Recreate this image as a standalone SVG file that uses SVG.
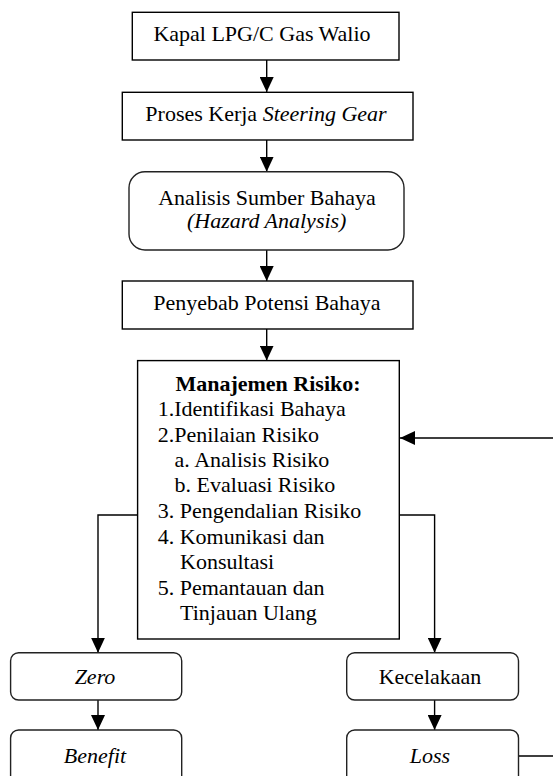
<svg xmlns="http://www.w3.org/2000/svg" width="553" height="776" viewBox="0 0 553 776">
<style>
.box{fill:#fff;stroke:#000;stroke-width:1.4}
.rbox{fill:#fff;stroke:#222;stroke-width:1.4}
.t{font-family:"Liberation Serif","Times New Roman",serif;font-size:22px;fill:#000}
.c{text-anchor:middle}
.i{font-style:italic}
.b{font-weight:bold}
.conn{fill:none;stroke:#000;stroke-width:1.4}
</style>
<defs>
<marker id="arr" markerUnits="userSpaceOnUse" markerWidth="15" markerHeight="14" refX="15" refY="7" orient="auto">
<path d="M0,0 L15,7 L0,14 z" fill="#000"/>
</marker>
</defs>
<rect width="553" height="776" fill="#fff"/>
<g id="connectors">
<path class="conn" d="M266.7,60 V92" marker-end="url(#arr)"/>
<path class="conn" d="M266.7,140 V171.7" marker-end="url(#arr)"/>
<path class="conn" d="M266.7,250 V281" marker-end="url(#arr)"/>
<path class="conn" d="M266.7,329 V360.6" marker-end="url(#arr)"/>
<path class="conn" d="M137.6,515 H98 V652.7" marker-end="url(#arr)"/>
<path class="conn" d="M397,515 H434.6 V652.7" marker-end="url(#arr)"/>
<path class="conn" d="M98,700 V730" marker-end="url(#arr)"/>
<path class="conn" d="M434.6,700 V730" marker-end="url(#arr)"/>
<path class="conn" d="M518.5,756 H560 V438 H400" marker-end="url(#arr)"/>
</g>
<g id="kapal">
<rect class="box" x="132.3" y="12.3" width="266.7" height="47.7"/>
<text class="t c" x="262" y="41">Kapal LPG/C Gas Walio</text>
</g>
<g id="proses">
<rect class="box" x="122.3" y="92.3" width="290.7" height="47.7"/>
<text class="t c" x="266" y="121">Proses Kerja <tspan class="i">Steering Gear</tspan></text>
</g>
<g id="analisis">
<rect class="rbox" x="129" y="171.7" width="275" height="78.3" rx="16"/>
<text class="t c" x="267" y="205">Analisis Sumber Bahaya</text>
<text class="t c i" x="266.7" y="228">(Hazard Analysis)</text>
</g>
<g id="penyebab">
<rect class="box" x="122.3" y="281" width="290.7" height="48"/>
<text class="t c" x="267" y="310">Penyebab Potensi Bahaya</text>
</g>
<g id="manajemen">
<rect class="box" x="137.6" y="360.6" width="261.7" height="278.4"/>
<text class="t c b" x="268" y="391">Manajemen Risiko:</text>
<text class="t" x="157.7" y="416">1.Identifikasi Bahaya</text>
<text class="t" x="157.7" y="442">2.Penilaian Risiko</text>
<text class="t" x="174.6" y="467">a. Analisis Risiko</text>
<text class="t" x="174.6" y="492">b. Evaluasi Risiko</text>
<text class="t" x="157.7" y="518">3. Pengendalian Risiko</text>
<text class="t" x="157.7" y="544">4. Komunikasi dan</text>
<text class="t" x="180" y="569">Konsultasi</text>
<text class="t" x="157.7" y="595">5. Pemantauan dan</text>
<text class="t" x="180" y="620">Tinjauan Ulang</text>
</g>
<g id="zero">
<rect class="rbox" x="10.6" y="652.7" width="171.1" height="47.3" rx="8"/>
<text class="t c i" x="95" y="684">Zero</text>
</g>
<g id="benefit">
<rect class="rbox" x="10.6" y="730" width="171.1" height="60" rx="8"/>
<text class="t c i" x="95" y="763">Benefit</text>
</g>
<g id="kecelakaan">
<rect class="rbox" x="346.7" y="652.7" width="171.8" height="47.3" rx="8"/>
<text class="t c" x="430" y="684">Kecelakaan</text>
</g>
<g id="loss">
<rect class="rbox" x="346.7" y="730" width="171.8" height="60" rx="8"/>
<text class="t c i" x="430" y="763">Loss</text>
</g>
</svg>
